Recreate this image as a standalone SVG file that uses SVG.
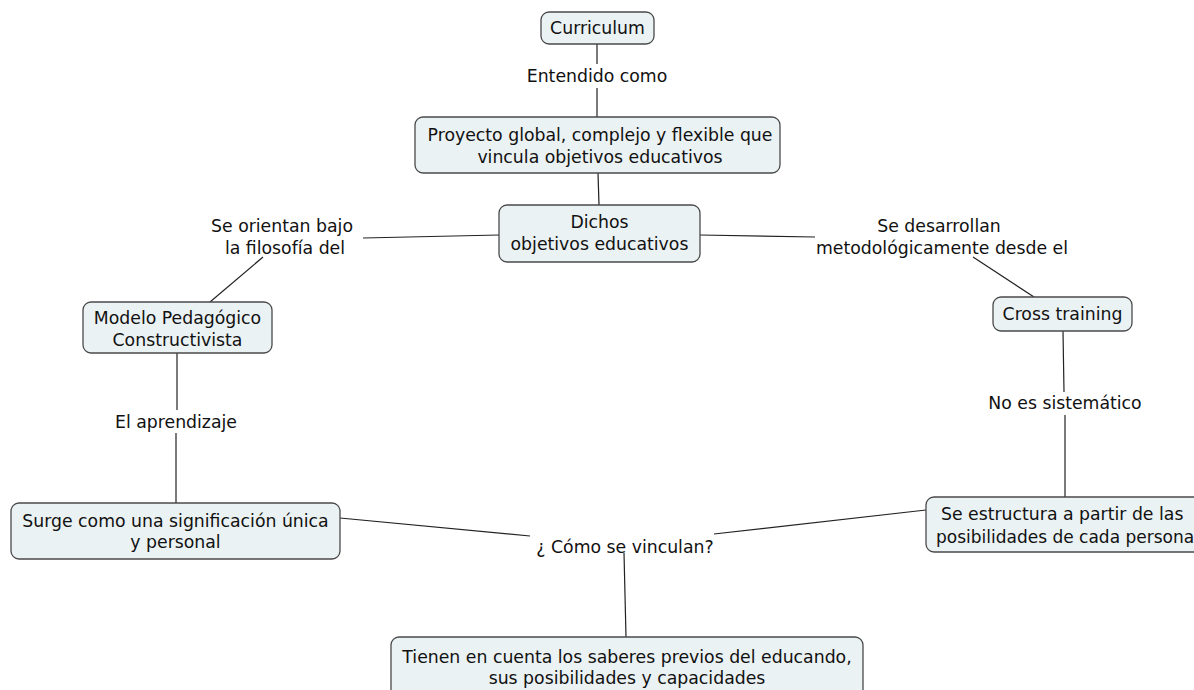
<svg xmlns="http://www.w3.org/2000/svg" width="1194" height="690" viewBox="0 0 1194 690">
<style>
.n{fill:#ebf2f4;stroke:#4a4a4a;stroke-width:1.3}
.t{font-family:"DejaVu Sans",Verdana,sans-serif;font-size:17.3px;fill:#111;text-anchor:middle}
.s{text-anchor:start}
.c{stroke:#222;stroke-width:1.2;fill:none}
</style>
<rect width="1194" height="690" fill="#fff"/>
<g id="connectors">
<line class="c" x1="597" y1="44" x2="597" y2="64"/>
<line class="c" x1="597" y1="88" x2="597" y2="117"/>
<line class="c" x1="598" y1="173" x2="599" y2="205"/>
<line class="c" x1="499" y1="235" x2="363" y2="238"/>
<line class="c" x1="263" y1="257" x2="210" y2="302"/>
<line class="c" x1="177" y1="353" x2="177" y2="410"/>
<line class="c" x1="176" y1="433" x2="176" y2="503"/>
<line class="c" x1="700" y1="235" x2="815" y2="237"/>
<line class="c" x1="973" y1="257" x2="1034" y2="297"/>
<line class="c" x1="1063" y1="331" x2="1064" y2="392"/>
<line class="c" x1="1065" y1="415" x2="1065" y2="497"/>
<line class="c" x1="340" y1="518" x2="530" y2="536"/>
<line class="c" x1="714" y1="534" x2="926" y2="510"/>
<line class="c" x1="624" y1="553" x2="626" y2="637"/>
</g>
<g id="curriculum">
<rect class="n" x="541" y="12" width="113" height="32" rx="8"/>
<text class="t" x="597.5" y="34">Curriculum</text>
</g>
<g id="lbl-entendido"><text class="t" x="597" y="82">Entendido como</text></g>
<g id="proyecto">
<rect class="n" x="415" y="117" width="365" height="56" rx="8"/>
<text class="t" x="600" y="141">Proyecto global, complejo y flexible que</text>
<text class="t" x="600" y="163">vincula objetivos educativos</text>
</g>
<g id="dichos">
<rect class="n" x="499" y="205" width="201" height="57" rx="8"/>
<text class="t" x="599.5" y="228">Dichos</text>
<text class="t" x="599.5" y="250">objetivos educativos</text>
</g>
<g id="lbl-orientan">
<text class="t" x="282" y="232">Se orientan bajo</text>
<text class="t" x="285" y="254">la filosofía del</text>
</g>
<g id="lbl-desarrollan">
<text class="t" x="939" y="232">Se desarrollan</text>
<text class="t" x="942" y="254">metodológicamente desde el</text>
</g>
<g id="modelo">
<rect class="n" x="83" y="302" width="189" height="51" rx="8"/>
<text class="t" x="177.5" y="324">Modelo Pedagógico</text>
<text class="t" x="177.5" y="346">Constructivista</text>
</g>
<g id="cross">
<rect class="n" x="993" y="297" width="139" height="34" rx="8"/>
<text class="t" x="1062.5" y="320">Cross training</text>
</g>
<g id="lbl-aprendizaje"><text class="t" x="176" y="428">El aprendizaje</text></g>
<g id="lbl-sistematico"><text class="t" x="1065" y="409">No es sistemático</text></g>
<g id="surge">
<rect class="n" x="11" y="503" width="329" height="56" rx="8"/>
<text class="t" x="175.5" y="527">Surge como una significación única</text>
<text class="t" x="175.5" y="548">y personal</text>
</g>
<g id="estructura">
<rect class="n" x="926" y="497" width="290" height="55" rx="8"/>
<text class="t s" x="941" y="520">Se estructura a partir de las</text>
<text class="t s" x="936" y="543" style="font-size:17px">posibilidades de cada persona</text>
</g>
<g id="lbl-vinculan"><text class="t" x="625" y="553">¿ Cómo se vinculan?</text></g>
<g id="tienen">
<rect class="n" x="391" y="637" width="472" height="70" rx="8"/>
<text class="t" x="627" y="663">Tienen en cuenta los saberes previos del educando,</text>
<text class="t" x="627" y="684">sus posibilidades y capacidades</text>
</g>
</svg>
